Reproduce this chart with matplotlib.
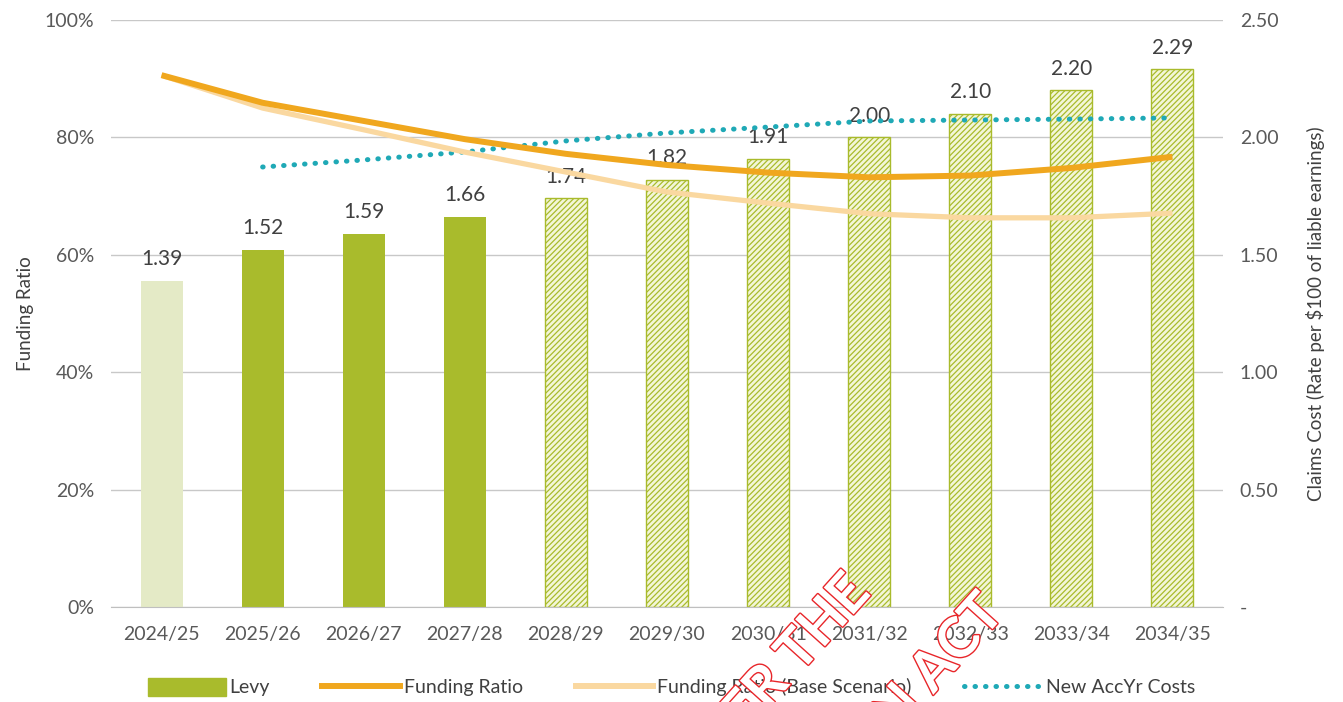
import matplotlib.pyplot as plt
import matplotlib.patheffects as pe
from matplotlib.patches import Patch
from matplotlib.lines import Line2D

# Datos
years = ["2024/25", "2025/26", "2026/27", "2027/28", "2028/29", "2029/30",
         "2030/31", "2031/32", "2032/33", "2033/34", "2034/35"]
levy = [1.39, 1.52, 1.59, 1.66, 1.74, 1.82, 1.91, 2.00, 2.10, 2.20, 2.29]
funding_ratio = [0.906, 0.859, 0.828, 0.797, 0.772, 0.753, 0.740, 0.732, 0.735, 0.748, 0.767]
funding_base = [0.906, 0.850, 0.813, 0.775, 0.741, 0.707, 0.688, 0.670, 0.663, 0.663, 0.671]
accyr_years = years[1:]
accyr_costs = [1.874, 1.904, 1.938, 1.985, 2.019, 2.044, 2.070, 2.074, 2.078, 2.083]

plt.rcParams['font.family'] = ['Lato', 'DejaVu Sans']
plt.rcParams['hatch.linewidth'] = 0.9

GREEN = "#a9bb2c"
GREEN_LIGHT = "#e4eac6"
HATCH_FILL = "#f3f6d8"
ORANGE = "#f0a71e"
ORANGE_LIGHT = "#fad8a0"
TEAL = "#1fa9b6"
TXT = "#595959"

fig = plt.figure(figsize=(13.43, 7.02), dpi=100)
ax2 = fig.add_axes([111 / 1343, 1 - 607 / 702, (1223 - 111) / 1343, 587 / 702])
ax = ax2.twinx()
# ratio a la izquierda, costes a la derecha
ax.yaxis.tick_left()
ax.yaxis.set_label_position("left")
ax2.yaxis.tick_right()
ax2.yaxis.set_label_position("right")

x = list(range(len(years)))
for i, v in enumerate(levy):
    if i == 0:
        ax2.bar(i, v, width=0.415, color=GREEN_LIGHT, zorder=2)
    elif i < 4:
        ax2.bar(i, v, width=0.415, color=GREEN, zorder=2)
    else:
        ax2.bar(i, v, width=0.415, facecolor=HATCH_FILL, edgecolor=GREEN,
                hatch="//////", linewidth=1.0, zorder=2)
    ax2.text(i, v + 0.05, f"{v:.2f}", ha="center", va="bottom",
             fontsize=15, color="#404040")

ax2.set_ylim(0, 2.5)
ax2.set_yticks([0, 0.5, 1.0, 1.5, 2.0, 2.5])
ax2.set_yticklabels(["-", "0.50", "1.00", "1.50", "2.00", "2.50"])
ax2.set_ylabel("Claims Cost (Rate per \\$100 of liable earnings)", fontsize=13.5,
               color="#404040", labelpad=20)
ax2.grid(axis="y", color="#c8c8c8", linewidth=1, zorder=0)
ax2.set_axisbelow(True)

# costes del nuevo año de accidente, en escala derecha
ax2.plot(x[1:], accyr_costs, color=TEAL, linewidth=3.6, linestyle=(0, (0.1, 2.0)),
         dash_capstyle="round", zorder=5)

ax.plot(x, funding_base, color=ORANGE_LIGHT, linewidth=3.8, solid_capstyle="butt", zorder=3)
ax.plot(x, funding_ratio, color=ORANGE, linewidth=4.3, solid_capstyle="butt", zorder=4)
ax.set_ylim(0, 1.0)
ax.set_yticks([0, 0.2, 0.4, 0.6, 0.8, 1.0])
ax.set_yticklabels(["0%", "20%", "40%", "60%", "80%", "100%"])
ax.set_ylabel("Funding Ratio", fontsize=13.5, color="#404040", labelpad=8)

ax.patch.set_visible(False)
ax2.set_zorder(1)
ax.set_zorder(2)

ax2.set_xlim(-0.5, 10.5)
ax2.set_xticks(x)
ax2.set_xticklabels(years)

for a in (ax, ax2):
    for s in a.spines.values():
        s.set_visible(False)
    a.tick_params(length=0, labelsize=14, colors=TXT, pad=12)
ax2.spines["bottom"].set_visible(True)
ax2.spines["bottom"].set_color("#bfbfbf")
ax2.tick_params(axis="x", pad=14)

handles = [
    Patch(color=GREEN),
    Line2D([], [], color=ORANGE, linewidth=4.3),
    Line2D([], [], color=ORANGE_LIGHT, linewidth=4.3),
    Line2D([], [], color=TEAL, linewidth=3.6, linestyle=(0, (0.1, 2.0)), dash_capstyle="round"),
]
labels = ["Levy", "Funding Ratio", "Funding Ratio (Base Scenario)", "New AccYr Costs"]
fig.legend(handles, labels, loc="center", bbox_to_anchor=(0.5, 1 - 687 / 702), ncol=4,
           frameon=False, fontsize=14, handlelength=4.0, handletextpad=0.2,
           columnspacing=2.7, labelcolor="#404040", handleheight=1.1)

# sello rojo
stamp = dict(fontsize=40, fontweight="bold", color="white", rotation=48,
             rotation_mode="anchor", ha="right", va="baseline", zorder=20,
             path_effects=[pe.withStroke(linewidth=2.0, foreground="#e8262a")])
fig.text(872 / 1343, 1 - 594 / 702, "RELEASED UNDER THE", **stamp)
fig.text(1006 / 1343, 1 - 614 / 702, "OFFICIAL INFORMATION ACT", **stamp)

fig.savefig("out.png", dpi=100)
